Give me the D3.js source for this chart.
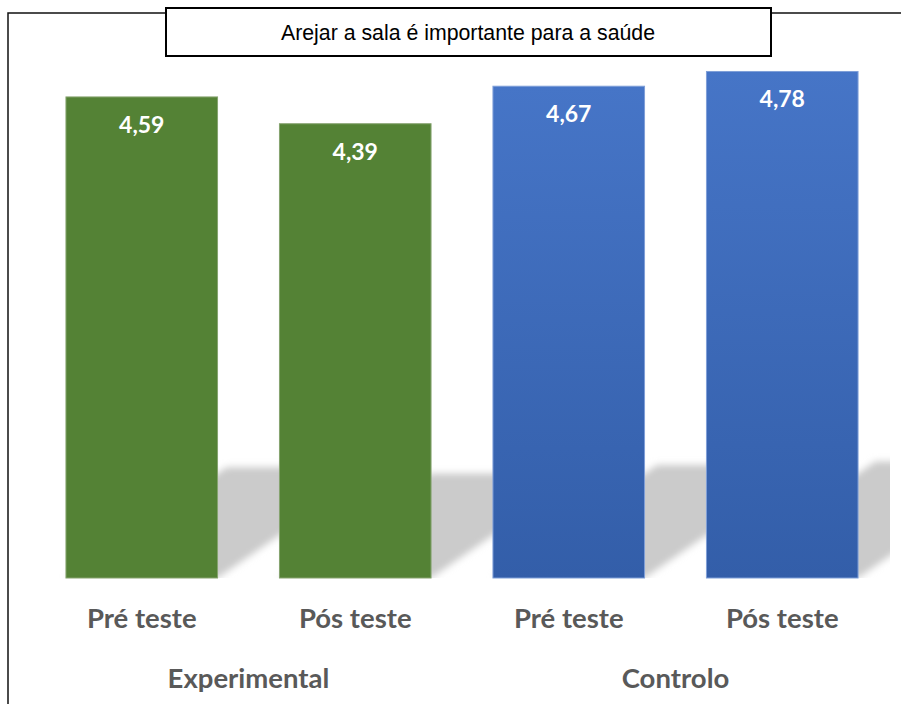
<!DOCTYPE html>
<html>
<head>
<meta charset="utf-8">
<script src="https://cdn.jsdelivr.net/npm/d3@7"></script>
<style>
	body { margin: 0; background: #fff; }
	svg { display: block; }
</style>
</head>
<body>
<svg width="901" height="704"></svg>
<script>
var title = "Arejar a sala é importante para a saúde";
var groups = ["Experimental", "Controlo"];
var phases = ["Pré teste", "Pós teste", "Pré teste", "Pós teste"];
var groupOf = [0, 0, 1, 1];
var values = [4.59, 4.39, 4.67, 4.78];
var labels = ["4,59", "4,39", "4,67", "4,78"];

var svg = d3.select("svg"),
	width = +svg.attr("width"),
	height = +svg.attr("height"),
	baseY = 578;

var keys = values.map(function(d, i) { return i; });

var x = d3.scaleBand()
	.domain(keys)
	.range([35, 889])
	.paddingInner(0.29)
	.paddingOuter(0.145);

// axis starts at 1, not 0
var y = d3.scaleLinear()
	.domain([1, 5])
	.range([baseY, 42]);

var defs = svg.append("defs");

var blue = defs.append("linearGradient")
	.attr("id", "blue")
	.attr("x1", 0).attr("y1", 0).attr("x2", 0).attr("y2", 1);
blue.append("stop").attr("offset", "0%").attr("stop-color", "#4675c7");
blue.append("stop").attr("offset", "100%").attr("stop-color", "#335ea9");

defs.append("filter")
	.attr("id", "blur")
	.attr("x", "-20%").attr("y", "-20%").attr("width", "140%").attr("height", "140%")
	.append("feGaussianBlur")
	.attr("stdDeviation", 3.5);

defs.append("clipPath")
	.attr("id", "plot")
	.append("rect")
	.attr("x", 8).attr("y", 13).attr("width", 882).attr("height", baseY - 13);

// frame
svg.append("path")
	.attr("d", "M8," + height + "V13H" + width)
	.attr("fill", "none")
	.attr("stroke", "#111")
	.attr("stroke-width", 1.5);

// perspective shadows
svg.append("g")
	.attr("clip-path", "url(#plot)")
	.selectAll("path")
	.data(keys)
	.enter().append("path")
	.attr("d", function(i) {
		var h = (baseY - y(values[i])) * 0.23,
			dx = h * 1.45,
			x0 = x(i), x1 = x(i) + x.bandwidth();
		return "M" + x0 + "," + baseY + "L" + x1 + "," + baseY +
			"L" + (x1 + dx) + "," + (baseY - h) + "L" + (x0 + dx) + "," + (baseY - h) + "Z";
	})
	.attr("fill", "#cbcbcb")
	.attr("filter", "url(#blur)");

// bars
svg.append("g")
	.selectAll("rect")
	.data(keys)
	.enter().append("rect")
	.attr("x", function(i) { return x(i); })
	.attr("y", function(i) { return y(values[i]); })
	.attr("width", x.bandwidth())
	.attr("height", function(i) { return baseY - y(values[i]); })
	.attr("fill", function(i) { return groupOf[i] === 0 ? "#548235" : "url(#blue)"; })
	.attr("stroke", function(i) { return groupOf[i] === 0 ? "#86a36f" : "#7f9fd8"; })
	.attr("stroke-width", 1);

// value labels
svg.append("g")
	.selectAll("text")
	.data(keys)
	.enter().append("text")
	.attr("x", function(i) { return x(i) + x.bandwidth() / 2; })
	.attr("y", function(i) { return y(values[i]) + 36; })
	.attr("text-anchor", "middle")
	.attr("font-family", "Lato, 'Open Sans', sans-serif")
	.attr("font-weight", "bold")
	.attr("font-size", 23)
	.attr("fill", "#fff")
	.text(function(i) { return labels[i]; });

// category labels
svg.append("g")
	.selectAll("text")
	.data(keys)
	.enter().append("text")
	.attr("x", function(i) { return x(i) + x.bandwidth() / 2; })
	.attr("y", 628)
	.attr("text-anchor", "middle")
	.attr("font-family", "Lato, 'Open Sans', sans-serif")
	.attr("font-weight", "bold")
	.attr("font-size", 27.5)
	.attr("fill", "#595959")
	.text(function(i) { return phases[i]; });

// group labels
svg.append("g")
	.selectAll("text")
	.data(groups)
	.enter().append("text")
	.attr("x", function(d, g) {
		var ks = keys.filter(function(i) { return groupOf[i] === g; });
		return (x(ks[0]) + x(ks[ks.length - 1]) + x.bandwidth()) / 2;
	})
	.attr("y", 688)
	.attr("text-anchor", "middle")
	.attr("font-family", "Lato, 'Open Sans', sans-serif")
	.attr("font-weight", "bold")
	.attr("font-size", 27.5)
	.attr("fill", "#595959")
	.text(function(d) { return d; });

// title box
svg.append("rect")
	.attr("x", 166).attr("y", 8)
	.attr("width", 605).attr("height", 48)
	.attr("fill", "#fff")
	.attr("stroke", "#000")
	.attr("stroke-width", 2);

svg.append("text")
	.attr("x", 468)
	.attr("y", 40)
	.attr("text-anchor", "middle")
	.attr("font-family", "'Liberation Sans', Arial, sans-serif")
	.attr("font-size", 21.3)
	.attr("fill", "#000")
	.text(title);
</script>
</body>
</html>
